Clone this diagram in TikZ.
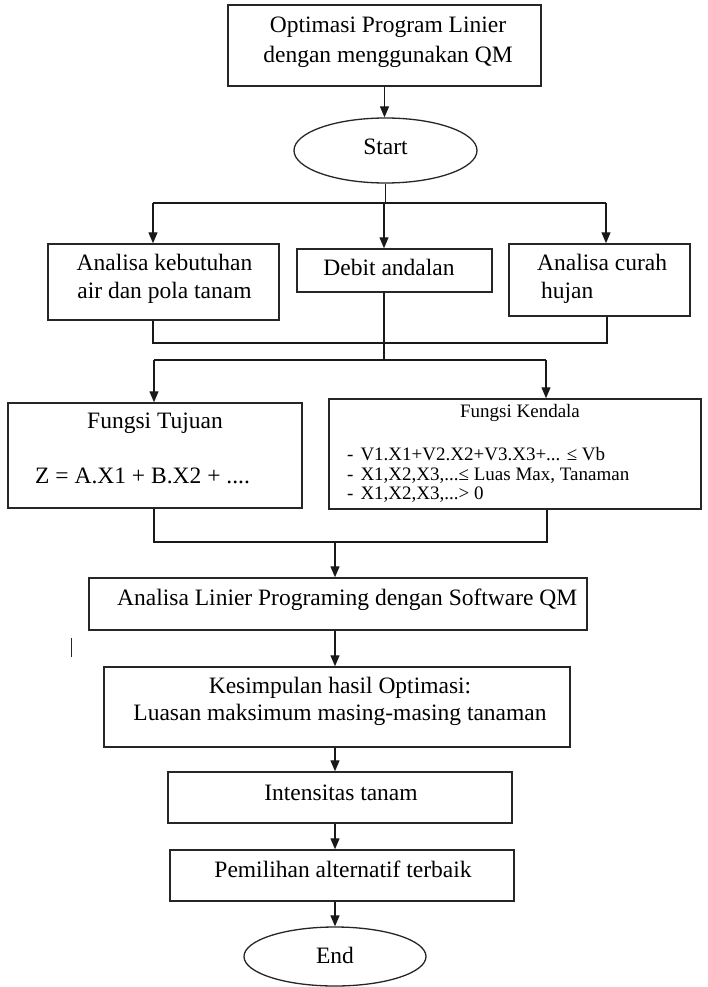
\documentclass[tikz,border=0pt]{standalone}
\usepackage{fontspec}
\setmainfont{Liberation Serif}
\usetikzlibrary{shapes.geometric,arrows.meta}
\tikzset{
  box/.style={draw=black!85, line width=1.5pt, inner sep=0pt},
  oval/.style={ellipse, draw=black!85, line width=1.3pt, inner sep=0pt},
  ln/.style={draw=black!90, line width=1.3pt},
  arr/.style={ln, -{Triangle[length=11pt,width=9pt]}},
  txt/.style={inner sep=0pt, font=\fontsize{23.5}{28}\selectfont, text=black},
  small/.style={inner sep=0pt, font=\fontsize{19}{20}\selectfont, text=black}
}
\begin{document}
\begin{tikzpicture}[x=1pt,y=-1pt]
\path[fill=white, use as bounding box] (0,0) rectangle (707,987);

% boxes
\node[box, minimum width=313pt, minimum height=81pt] (b1) at (384.5,45.5) {};
\node[oval, minimum width=183pt, minimum height=65pt] (start) at (385.5,150.5) {};
\node[box, minimum width=231pt, minimum height=76pt] (A) at (163.5,282) {};
\node[box, minimum width=195pt, minimum height=43pt] (B) at (394.5,270.5) {};
\node[box, minimum width=181pt, minimum height=72pt] (C) at (599.5,280) {};
\node[box, minimum width=294pt, minimum height=105pt] (D) at (155,455.5) {};
\node[box, minimum width=372pt, minimum height=110pt] (E) at (515,454) {};
\node[box, minimum width=498pt, minimum height=52pt] (F) at (338,604) {};
\node[box, minimum width=466pt, minimum height=80pt] (G) at (337,707) {};
\node[box, minimum width=344pt, minimum height=51pt] (H) at (340,797.5) {};
\node[box, minimum width=344pt, minimum height=51pt] (I) at (342,875.5) {};
\node[oval, minimum width=182pt, minimum height=59pt] (end) at (335,956.5) {};

% texts
\node[txt, anchor=base] (t1a) at (388,33) {Optimasi Program Linier};
\node[txt, anchor=base] (t1b) at (388,63) {dengan menggunakan QM};
\node[txt, anchor=base] (ts) at (385.5,155) {Start};
\node[txt, anchor=base] (tAa) at (164.5,270) {Analisa kebutuhan};
\node[txt, anchor=base] (tAb) at (164.5,298) {air dan pola tanam};
\node[txt, anchor=base] (tB) at (389,275) {Debit andalan};
\node[txt, anchor=base west] (tCa) at (537,270) {Analisa curah};
\node[txt, anchor=base west] (tCb) at (541,298) {hujan};
\node[txt, anchor=base] (tDa) at (155,428) {Fungsi Tujuan};
\node[txt, anchor=base west] (tDb) at (35,483) {Z = A.X1 + B.X2 + ....};
\node[small, anchor=base] (tEa) at (520,417) {Fungsi Kendala};
\node[small, anchor=base west] (tE1) at (347,460) {-\hspace{7pt}V1.X1+V2.X2+V3.X3+... ≤ Vb};
\node[small, anchor=base west] (tE2) at (347,480) {-\hspace{7pt}X1,X2,X3,...≤ Luas Max, Tanaman};
\node[small, anchor=base west] (tE3) at (347,499) {-\hspace{7pt}X1,X2,X3,...> 0};
\node[txt, anchor=base west] (tF) at (117,605) {Analisa Linier Programing dengan Software QM};
\node[txt, anchor=base] (tGa) at (340,693) {Kesimpulan hasil Optimasi:};
\node[txt, anchor=base] (tGb) at (340,720) {Luasan maksimum masing-masing tanaman};
\node[txt, anchor=base] (tH) at (341,800) {Intensitas tanam};
\node[txt, anchor=base] (tI) at (343,877) {Pemilihan alternatif terbaik};
\node[txt, anchor=base] (tEnd) at (335,963) {End};

% junction coordinates
\coordinate (j1) at (384,203);
\coordinate (j1l) at (153,203);
\coordinate (j1r) at (606,203);
\coordinate (m1l) at (153,343);
\coordinate (m1r) at (607,343);
\coordinate (j2) at (384,360);
\coordinate (j2l) at (154,360);
\coordinate (j2r) at (546,360);
\coordinate (m2l) at (154,542);
\coordinate (m2r) at (547,542);
\coordinate (m2) at (335,542);

% connectors
\draw[arr] (b1.south) -- (b1.south |- start.north);
\draw[ln] (start.south) -- (start.south |- j1);
\draw[ln] (j1l) -- (j1r);
\draw[arr] (j1l) -- (j1l |- A.north);
\draw[arr] (j1) -- (j1 |- B.north);
\draw[arr] (j1r) -- (j1r |- C.north);
\draw[ln] (A.south -| m1l) -- (m1l) -- (m1r) -- (C.south -| m1r);
\draw[ln] (B.south -| j2) -- (j2);
\draw[ln] (j2l) -- (j2r);
\draw[arr] (j2l) -- (j2l |- D.north);
\draw[arr] (j2r) -- (j2r |- E.north);
\draw[ln] (D.south -| m2l) -- (m2l) -- (m2r) -- (E.south -| m2r);
\draw[arr] (m2) -- (m2 |- F.north);
\draw[arr] (F.south -| m2) -- (G.north -| m2);
\draw[arr] (G.south -| m2) -- (H.north -| m2);
\draw[arr] (H.south -| m2) -- (I.north -| m2);
\draw[arr] (I.south -| end.north) -- (end.north);

% stray mark
\draw[line width=1.5pt, black!85] (71.5,638) -- (71.5,657);
\end{tikzpicture}
\end{document}
